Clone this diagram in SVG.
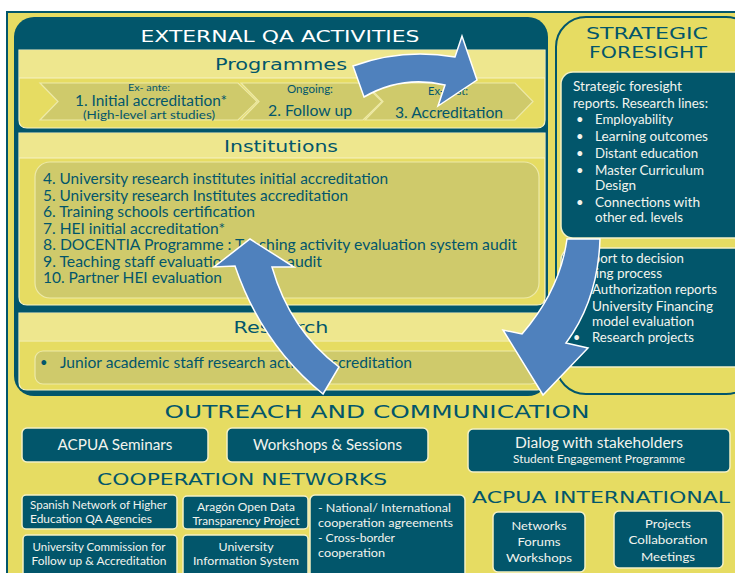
<svg xmlns="http://www.w3.org/2000/svg" width="735" height="573" viewBox="0 0 735 573">
<style>
.bg{fill:#E6DC62}
.teal{fill:#02566B}
.band{fill:#EEE78E}
.olive{fill:#CFCA6B;stroke:#EDE9A8;stroke-width:1.2}
.sec{fill:#E6DC62;stroke:#F6F2C4;stroke-width:1.2}
.box{fill:#02566B;stroke:#F4F0C4;stroke-width:1.5}
.arrow{fill:#4F81BD;stroke:#FFFFFF;stroke-width:1.5;stroke-linejoin:miter}
.hd{font-family:"DejaVu Sans",sans-serif;fill:#02566B}
.hdw{font-family:"DejaVu Sans",sans-serif;fill:#FFFFFF}
.tx{font-family:Lato,"Open Sans",sans-serif;fill:#02566B}
.tw{font-family:Lato,"Open Sans",sans-serif;fill:#F2F4EE}
</style>
<rect x="0" y="0" width="735" height="573" fill="#FFFFFF"/>
<rect x="7" y="12" width="740" height="580" class="bg" stroke="#02566B" stroke-width="2"/>

<g id="external-qa">
<rect x="14" y="17" width="534" height="379" rx="20" class="teal"/>
<text x="280" y="42" class="hdw" font-size="16.5" text-anchor="middle" textLength="279" lengthAdjust="spacingAndGlyphs">EXTERNAL QA ACTIVITIES</text>
</g>

<g id="programmes">
<path d="M19,50 H545 V120 Q545,128 537,128 H27 Q19,128 19,120 Z" class="sec"/>
<rect x="19.6" y="50.6" width="524.8" height="27.4" class="band"/>
<line x1="19" y1="78" x2="545" y2="78" stroke="#F6F2C4" stroke-width="1.2"/>
<text x="281" y="70" class="hd" font-size="16" text-anchor="middle" textLength="132" lengthAdjust="spacingAndGlyphs">Programmes</text>
<polygon points="40,83 238,83 257,101.5 238,120 40,120 58,101.5" class="olive"/>
<polygon points="241,83 363,83 382,101.5 363,120 241,120 259,101.5" class="olive"/>
<polygon points="365,83 515,83 533,101.5 515,120 365,120 383,101.5" class="olive"/>
<text x="149" y="90.5" class="tx" font-size="10" text-anchor="middle" textLength="42" lengthAdjust="spacingAndGlyphs">Ex- ante:</text>
<text x="151" y="106" class="tx" font-size="14.5" text-anchor="middle" textLength="152" lengthAdjust="spacingAndGlyphs">1. Initial accreditation*</text>
<text x="149" y="119" class="tx" font-size="11.5" text-anchor="middle" textLength="132" lengthAdjust="spacingAndGlyphs">(High-level art studies)</text>
<text x="310" y="93" class="tx" font-size="10.5" text-anchor="middle" textLength="46" lengthAdjust="spacingAndGlyphs">Ongoing:</text>
<text x="310" y="116" class="tx" font-size="16" text-anchor="middle" textLength="84" lengthAdjust="spacingAndGlyphs">2. Follow up</text>
<text x="448" y="95" class="tx" font-size="10.5" text-anchor="middle" textLength="40" lengthAdjust="spacingAndGlyphs">Ex-post:</text>
<text x="449" y="118" class="tx" font-size="15.5" text-anchor="middle" textLength="108" lengthAdjust="spacingAndGlyphs">3. Accreditation</text>
</g>

<g id="institutions">
<path d="M19,133 H545 V297 Q545,305 537,305 H27 Q19,305 19,297 Z" class="sec"/>
<rect x="19.6" y="133.6" width="524.8" height="24.4" class="band"/>
<line x1="19" y1="158" x2="545" y2="158" stroke="#F6F2C4" stroke-width="1.2"/>
<text x="281" y="152" class="hd" font-size="15.5" text-anchor="middle" textLength="114" lengthAdjust="spacingAndGlyphs">Institutions</text>
<rect x="35" y="162" width="504" height="136" rx="15" class="olive"/>
<text x="43" y="184" class="tx" font-size="15" textLength="345" lengthAdjust="spacingAndGlyphs">4. University research institutes initial accreditation</text>
<text x="43" y="200.5" class="tx" font-size="15" textLength="305" lengthAdjust="spacingAndGlyphs">5. University research Institutes accreditation</text>
<text x="43" y="217" class="tx" font-size="15" textLength="212" lengthAdjust="spacingAndGlyphs">6. Training schools certification</text>
<text x="43" y="233.5" class="tx" font-size="15" textLength="182" lengthAdjust="spacingAndGlyphs">7. HEI initial accreditation*</text>
<text x="43" y="250" class="tx" font-size="15" textLength="474" lengthAdjust="spacingAndGlyphs">8. DOCENTIA  Programme : Teaching activity evaluation system audit</text>
<text x="43" y="266.5" class="tx" font-size="15" textLength="279" lengthAdjust="spacingAndGlyphs">9. Teaching staff evaluation system audit</text>
<text x="43" y="283" class="tx" font-size="15" textLength="179" lengthAdjust="spacingAndGlyphs">10. Partner HEI evaluation</text>
</g>

<g id="research">
<path d="M19,313 H545 V382 Q545,390 537,390 H27 Q19,390 19,382 Z" class="sec"/>
<rect x="19.6" y="313.6" width="524.8" height="26.8" class="band"/>
<line x1="19" y1="341" x2="545" y2="341" stroke="#F6F2C4" stroke-width="1.2"/>
<text x="281" y="333" class="hd" font-size="15.5" text-anchor="middle" textLength="95" lengthAdjust="spacingAndGlyphs">Research</text>
<rect x="35" y="351" width="504" height="33" rx="8" class="olive"/>
<text x="40" y="367" class="tx" font-size="13">•</text>
<text x="60" y="368" class="tx" font-size="15" textLength="352" lengthAdjust="spacingAndGlyphs">Junior academic staff research activity accreditation</text>
</g>

<g id="strategic-foresight">
<rect x="556" y="17" width="200" height="377" rx="30" class="bg" stroke="#02566B" stroke-width="2"/>
<text x="647" y="38.5" class="hd" font-size="16" text-anchor="middle" textLength="122" lengthAdjust="spacingAndGlyphs">STRATEGIC</text>
<text x="648" y="57.5" class="hd" font-size="16" text-anchor="middle" textLength="118" lengthAdjust="spacingAndGlyphs">FORESIGHT</text>
<rect x="561" y="72" width="185" height="166" rx="12" class="box"/>
<text x="573" y="91" class="tw" font-size="13" textLength="109" lengthAdjust="spacingAndGlyphs">Strategic foresight</text>
<text x="573" y="108" class="tw" font-size="13" textLength="135" lengthAdjust="spacingAndGlyphs">reports. Research lines:</text>
<g class="tw" font-size="13">
<text x="576" y="124">•</text><text x="595" y="124" textLength="78" lengthAdjust="spacingAndGlyphs">Employability</text>
<text x="576" y="141">•</text><text x="595" y="141" textLength="113" lengthAdjust="spacingAndGlyphs">Learning outcomes</text>
<text x="576" y="158">•</text><text x="595" y="158" textLength="103" lengthAdjust="spacingAndGlyphs">Distant education</text>
<text x="576" y="175">•</text><text x="595" y="175" textLength="109" lengthAdjust="spacingAndGlyphs">Master Curriculum</text>
<text x="595" y="190" textLength="41" lengthAdjust="spacingAndGlyphs">Design</text>
<text x="576" y="207">•</text><text x="595" y="207" textLength="105" lengthAdjust="spacingAndGlyphs">Connections with</text>
<text x="595" y="222" textLength="88" lengthAdjust="spacingAndGlyphs">other ed. levels</text>
</g>
<rect x="561" y="248" width="185" height="119" rx="12" class="box"/>
<g class="tw" font-size="12.5">
<text x="571" y="262.5" textLength="113" lengthAdjust="spacingAndGlyphs">Support to decision</text>
<text x="571" y="278" textLength="91" lengthAdjust="spacingAndGlyphs">making process</text>
<text x="573" y="294">•</text><text x="592" y="294" textLength="125" lengthAdjust="spacingAndGlyphs">Authorization reports</text>
<text x="573" y="311">•</text><text x="592" y="311" textLength="121" lengthAdjust="spacingAndGlyphs">University Financing</text>
<text x="592" y="326" textLength="102" lengthAdjust="spacingAndGlyphs">model evaluation</text>
<text x="573" y="342">•</text><text x="592" y="342" textLength="102" lengthAdjust="spacingAndGlyphs">Research projects</text>
</g>
</g>

<g id="outreach">
<text x="377" y="418" class="hd" font-size="18" text-anchor="middle" textLength="425" lengthAdjust="spacingAndGlyphs">OUTREACH AND COMMUNICATION</text>
</g>
<g id="acpua-seminars">
<rect x="22" y="428" width="186" height="34" rx="5" class="box"/>
<text x="115" y="450" class="tw" font-size="15" text-anchor="middle" textLength="115" lengthAdjust="spacingAndGlyphs">ACPUA Seminars</text>
</g>
<g id="workshops-sessions">
<rect x="227" y="428" width="201" height="34" rx="5" class="box"/>
<text x="327.5" y="450" class="tw" font-size="15" text-anchor="middle" textLength="149" lengthAdjust="spacingAndGlyphs">Workshops &amp; Sessions</text>
</g>
<g id="dialog-stakeholders">
<rect x="468" y="429" width="262" height="43" rx="5" class="box"/>
<text x="599" y="448" class="tw" font-size="14.5" text-anchor="middle" textLength="168" lengthAdjust="spacingAndGlyphs">Dialog with stakeholders</text>
<text x="599" y="463" class="tw" font-size="10.5" text-anchor="middle" textLength="172" lengthAdjust="spacingAndGlyphs">Student Engagement Programme</text>
</g>

<g id="cooperation-networks">
<text x="242" y="485" class="hd" font-size="16.5" text-anchor="middle" textLength="290" lengthAdjust="spacingAndGlyphs">COOPERATION NETWORKS</text>
</g>
<g id="spanish-network">
<rect x="22" y="495" width="155" height="34" rx="4" class="box"/>
<text x="30" y="509" class="tw" font-size="11" textLength="137" lengthAdjust="spacingAndGlyphs">Spanish Network of Higher</text>
<text x="30" y="523" class="tw" font-size="11" textLength="122" lengthAdjust="spacingAndGlyphs">Education QA Agencies</text>
</g>
<g id="aragon-open-data">
<rect x="183" y="496" width="125" height="33" rx="4" class="box"/>
<text x="246" y="511" class="tw" font-size="11" text-anchor="middle" textLength="98" lengthAdjust="spacingAndGlyphs">Aragón Open Data</text>
<text x="246" y="525" class="tw" font-size="11" text-anchor="middle" textLength="107" lengthAdjust="spacingAndGlyphs">Transparency Project</text>
</g>
<g id="cooperation-agreements">
<rect x="310" y="495" width="155" height="90" rx="5" class="box"/>
<text x="318" y="512" class="tw" font-size="11.5" textLength="133" lengthAdjust="spacingAndGlyphs">- National/ International</text>
<text x="318" y="527" class="tw" font-size="11.5" textLength="135" lengthAdjust="spacingAndGlyphs">cooperation agreements</text>
<text x="318" y="542" class="tw" font-size="11.5" textLength="77" lengthAdjust="spacingAndGlyphs">- Cross-border</text>
<text x="318" y="557" class="tw" font-size="11.5" textLength="67" lengthAdjust="spacingAndGlyphs">cooperation</text>
</g>
<g id="university-commission">
<rect x="23" y="535" width="154" height="45" rx="4" class="box"/>
<text x="99" y="551" class="tw" font-size="11.5" text-anchor="middle" textLength="133" lengthAdjust="spacingAndGlyphs">University Commission for</text>
<text x="99" y="565" class="tw" font-size="11.5" text-anchor="middle" textLength="135" lengthAdjust="spacingAndGlyphs">Follow up &amp; Accreditation</text>
</g>
<g id="university-information-system">
<rect x="183" y="535" width="125" height="45" rx="4" class="box"/>
<text x="246" y="551" class="tw" font-size="11.5" text-anchor="middle" textLength="55" lengthAdjust="spacingAndGlyphs">University</text>
<text x="246" y="565" class="tw" font-size="11.5" text-anchor="middle" textLength="106" lengthAdjust="spacingAndGlyphs">Information System</text>
</g>

<g id="acpua-international">
<text x="601" y="503" class="hd" font-size="16" text-anchor="middle" textLength="258" lengthAdjust="spacingAndGlyphs">ACPUA INTERNATIONAL</text>
</g>
<g id="networks-forums">
<rect x="493" y="512" width="92" height="60" rx="5" class="box"/>
<text x="539" y="530" class="tw" font-size="12" text-anchor="middle" textLength="55" lengthAdjust="spacingAndGlyphs">Networks</text>
<text x="539" y="546" class="tw" font-size="12" text-anchor="middle" textLength="43" lengthAdjust="spacingAndGlyphs">Forums</text>
<text x="539" y="562" class="tw" font-size="12" text-anchor="middle" textLength="66" lengthAdjust="spacingAndGlyphs">Workshops</text>
</g>
<g id="projects-collaboration">
<rect x="614" y="511" width="109" height="57" rx="5" class="box"/>
<text x="668" y="528" class="tw" font-size="12" text-anchor="middle" textLength="46" lengthAdjust="spacingAndGlyphs">Projects</text>
<text x="668" y="544" class="tw" font-size="12" text-anchor="middle" textLength="79" lengthAdjust="spacingAndGlyphs">Collaboration</text>
<text x="668" y="561" class="tw" font-size="12" text-anchor="middle" textLength="54" lengthAdjust="spacingAndGlyphs">Meetings</text>
</g>

<g id="connectors">
<path class="arrow" d="M353,66 Q402,48 455,57 L462,36 L477,80 L438,106 L445,85 Q402,75 364,97 Z"/>
<path class="arrow" d="M250,239 L294,267 L272,267 Q290,330 339,367 L323,394 Q262,345 235,266 L214,267 Z"/>
<path class="arrow" d="M567,239 L600,239 Q598,300 566,343 L588,348 L543,395 L503,330 L522,334 Q560,290 567,239 Z"/>
</g>
</svg>
